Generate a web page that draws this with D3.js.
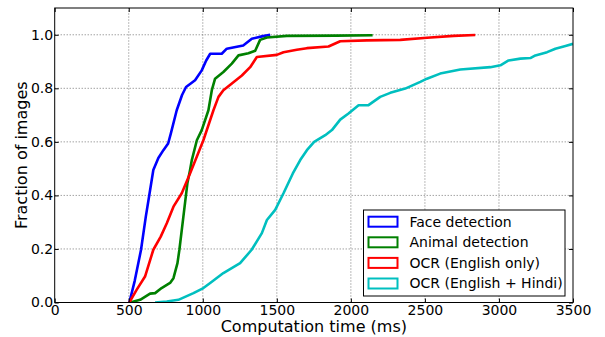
<!DOCTYPE html>
<html>
<head>
<meta charset="utf-8">
<script src="https://cdn.jsdelivr.net/npm/d3@7"></script>
<style>
  body { margin: 0; background: #fff; }
  svg { display: block; font-family: "DejaVu Sans", sans-serif; }
</style>
</head>
<body>
<div id="chart"></div>
<script>
// series: [ms, fraction of images]
const faceDetection = [
  [504, 0], [540, 0.08], [583, 0.197], [615, 0.32], [637, 0.395], [666, 0.495], [700, 0.54],
  [734, 0.569], [766, 0.594], [784, 0.631], [824, 0.718], [860, 0.775], [887, 0.805],
  [948, 0.83], [993, 0.867], [1023, 0.904], [1050, 0.929], [1128, 0.929], [1162, 0.948],
  [1273, 0.96], [1331, 0.985], [1399, 0.994], [1455, 1.0]
];
const animalDetection = [
  [509, 0], [577, 0.01], [644, 0.033], [678, 0.035], [722, 0.054], [779, 0.073], [802, 0.091],
  [829, 0.147], [842, 0.197], [869, 0.321], [896, 0.445], [914, 0.495], [926, 0.532],
  [960, 0.606], [993, 0.644], [1038, 0.718], [1061, 0.793], [1083, 0.836], [1139, 0.861],
  [1196, 0.892], [1241, 0.923], [1308, 0.931], [1354, 0.94], [1387, 0.981], [1433, 0.99],
  [1568, 0.996], [1900, 0.997], [2147, 0.998]
];
const ocrEnglish = [
  [504, 0], [554, 0.048], [610, 0.097], [666, 0.197], [716, 0.246], [757, 0.296], [802, 0.358],
  [858, 0.408], [914, 0.482], [1004, 0.606], [1072, 0.718], [1106, 0.768], [1139, 0.793],
  [1207, 0.823], [1264, 0.848], [1320, 0.879], [1365, 0.917], [1500, 0.925], [1545, 0.935],
  [1635, 0.944], [1703, 0.95], [1849, 0.956], [1928, 0.976], [2108, 0.979], [2334, 0.981],
  [2514, 0.989], [2694, 0.996], [2840, 0.999]
];
const ocrHindi = [
  [678, 0], [757, 0.004], [835, 0.01], [937, 0.035], [1004, 0.054], [1050, 0.073], [1139, 0.11],
  [1252, 0.147], [1330, 0.197], [1399, 0.259], [1433, 0.308], [1489, 0.346], [1545, 0.408],
  [1608, 0.482], [1658, 0.532], [1703, 0.569], [1752, 0.6], [1827, 0.625], [1872, 0.644],
  [1928, 0.683], [1984, 0.706], [2052, 0.737], [2119, 0.737], [2198, 0.768], [2266, 0.783],
  [2367, 0.799], [2469, 0.824], [2514, 0.836], [2603, 0.855], [2739, 0.87], [2942, 0.879],
  [3010, 0.886], [3065, 0.904], [3145, 0.911], [3212, 0.913], [3246, 0.923], [3325, 0.935],
  [3381, 0.948], [3449, 0.958], [3500, 0.966]
];
const seriesNames = ["Face detection", "Animal detection", "OCR (English only)", "OCR (English + Hindi)"];
const seriesColors = ["#0000ff", "#008000", "#ff0000", "#00bfbf"];
const xTicks = [0, 500, 1000, 1500, 2000, 2500, 3000, 3500];
const yTicks = [0, 0.2, 0.4, 0.6, 0.8, 1.0];

const width = 605, height = 337;
const margin = { top: 8, right: 32, bottom: 34.5, left: 54.7 };

const svg = d3.select("#chart").append("svg")
  .attr("width", width).attr("height", height);

const x = d3.scaleLinear().domain([0, 3500]).range([margin.left, width - margin.right]);
const y = d3.scaleLinear().domain([0, 1.1]).range([height - margin.bottom, margin.top]);

// grid
svg.append("g").selectAll("line").data(xTicks.slice(1, -1)).join("line")
  .attr("x1", d => x(d)).attr("x2", d => x(d))
  .attr("y1", y(0)).attr("y2", y(1.1))
  .attr("stroke", "#555").attr("stroke-width", 0.8).attr("stroke-dasharray", "1,2");
svg.append("g").selectAll("line").data(yTicks.slice(1)).join("line")
  .attr("x1", x(0)).attr("x2", x(3500))
  .attr("y1", d => y(d)).attr("y2", d => y(d))
  .attr("stroke", "#555").attr("stroke-width", 0.8).attr("stroke-dasharray", "1,2");

// curves
svg.append("clipPath").attr("id", "clip").append("rect")
  .attr("x", x(0)).attr("y", y(1.1))
  .attr("width", x(3500) - x(0)).attr("height", y(0) - y(1.1));
const line = d3.line().x(d => x(d[0])).y(d => y(d[1]));
const allSeries = [faceDetection, animalDetection, ocrEnglish, ocrHindi];
svg.append("g")
  .attr("clip-path", "url(#clip)")
  .selectAll("path").data(allSeries).join("path")
  .attr("d", line)
  .attr("fill", "none")
  .attr("stroke", (d, i) => seriesColors[i])
  .attr("stroke-width", 2.6)
  .attr("stroke-linejoin", "round");

// axes (ticks inside on all sides)
const fs = "14px";
const xAxis = d3.axisBottom(x).tickValues(xTicks).tickSize(-4).tickPadding(2.5).tickFormat(d3.format("d"));
const xg = svg.append("g").attr("transform", `translate(0,${y(0)})`).call(xAxis);
const yAxis = d3.axisLeft(y).tickValues(yTicks).tickSize(-4).tickPadding(1.5).tickFormat(d3.format(".1f"));
const yg = svg.append("g").attr("transform", `translate(${x(0)},0)`).call(yAxis);
svg.append("g").attr("transform", `translate(0,${y(1.1)})`)
  .call(d3.axisTop(x).tickValues(xTicks).tickSize(-4).tickFormat(""));
svg.append("g").attr("transform", `translate(${x(3500)},0)`)
  .call(d3.axisRight(y).tickValues(yTicks).tickSize(-4).tickFormat(""));
svg.selectAll(".domain").remove();
svg.selectAll(".tick line").attr("stroke", "#000");
[xg, yg].forEach(g => g.selectAll("text")
  .attr("font-family", "DejaVu Sans").attr("font-size", fs).attr("fill", "#000"));

svg.append("rect")
  .attr("x", x(0)).attr("y", y(1.1))
  .attr("width", x(3500) - x(0)).attr("height", y(0) - y(1.1))
  .attr("fill", "none").attr("stroke", "#000").attr("stroke-width", 1);

// axis labels
svg.append("text")
  .attr("x", (x(0) + x(3500)) / 2).attr("y", 331.5)
  .attr("text-anchor", "middle").attr("font-size", "16px")
  .text("Computation time (ms)");
svg.append("text")
  .attr("transform", `translate(27,${(y(0) + y(1.1)) / 2}) rotate(-90)`)
  .attr("text-anchor", "middle").attr("font-size", "16px")
  .text("Fraction of images");

// legend
const lg = svg.append("g").attr("transform", "translate(363.5,210)");
lg.append("rect").attr("width", 201.5).attr("height", 86)
  .attr("fill", "#fff").attr("stroke", "#000").attr("stroke-width", 1);
const items = lg.selectAll("g.item").data(seriesNames).join("g")
  .attr("class", "item")
  .attr("transform", (d, i) => `translate(0,${11.7 + i * 20.6})`);
items.append("rect")
  .attr("x", 5).attr("y", -5).attr("width", 29).attr("height", 10)
  .attr("fill", "#fff").attr("stroke", (d, i) => seriesColors[i]).attr("stroke-width", 2);
items.append("text")
  .attr("x", 46).attr("dy", "0.35em")
  .attr("font-size", fs)
  .text(d => d);
</script>
</body>
</html>
